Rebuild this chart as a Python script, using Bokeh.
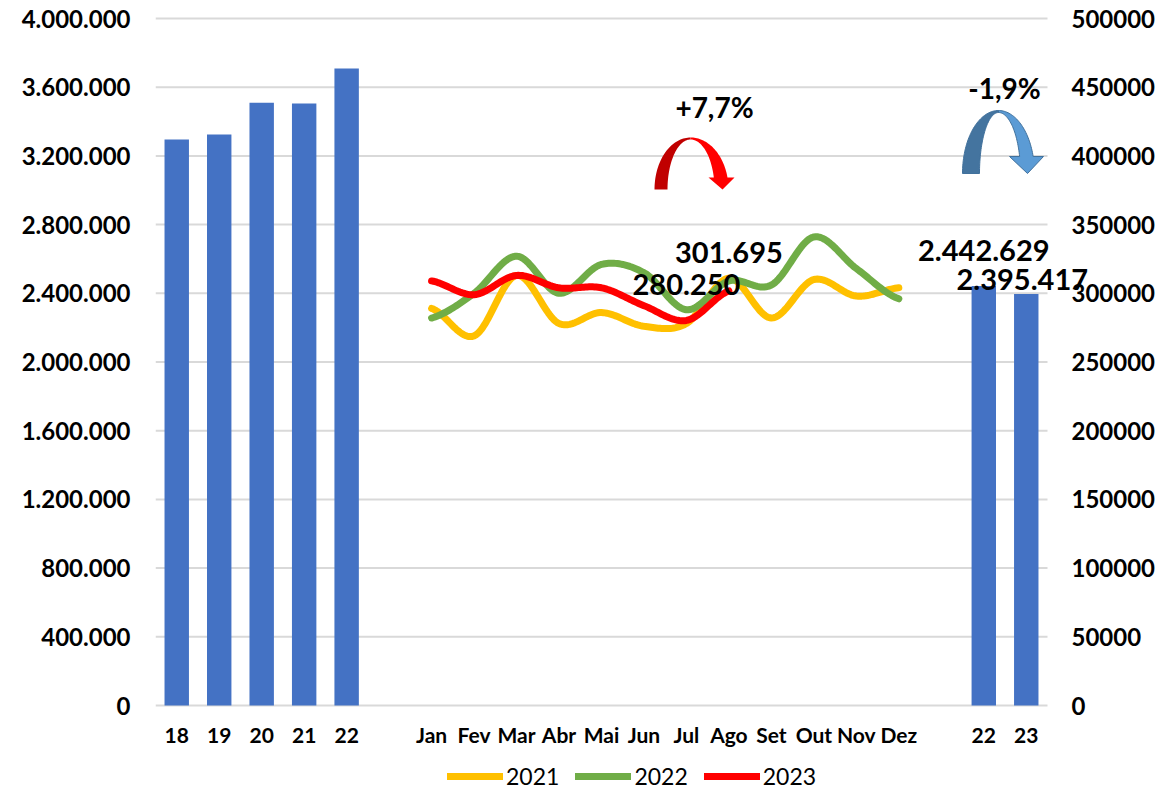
from bokeh.plotting import figure
from bokeh.models import (LinearAxis, Range1d, FixedTicker, Legend, LegendItem, Label)
from bokeh.embed import file_html
from bokeh.resources import INLINE
import numpy as np

categories = ["18","19","20","21","22","","Jan","Fev","Mar","Abr","Mai","Jun","Jul","Ago","Set","Out","Nov","Dez","","22","23"]
annual_values = [3295000, 3325000, 3510000, 3505000, 3709000]
ytd_values = [2442629, 2395417]
m2021 = [289000, 269000, 313000, 278000, 286000, 276000, 278000, 311000, 282000, 310000, 298000, 304000]
m2022 = [282000, 300000, 327000, 300000, 321000, 315000, 288000, 309000, 306000, 341000, 318000, 296000]
m2023 = [309000, 299000, 313000, 304000, 304000, 291000, 280250, 301695]
left_ticks = [0, 400000, 800000, 1200000, 1600000, 2000000, 2400000, 2800000, 3200000, 3600000, 4000000]
right_ticks = [0, 50000, 100000, 150000, 200000, 250000, 300000, 350000, 400000, 450000, 500000]

FONT = "Lato"
W, H = 1175, 790
FL, FR, FT, Y0 = 155, 1047, 18, 705     # plot edges and the zero line, in canvas pixels
PLOT_H = Y0 - FT
N = len(categories)
# the frame runs on above the top tick, below zero and right of the last category,
# so that the axis labels, the legend and the last data label are not cut off
above = FT / PLOT_H
below = (H - Y0) / PLOT_H
right = (W - FR) / (FR - FL) * N

p = figure(width=W, height=H, output_backend="svg", toolbar_location=None,
           x_range=Range1d(0, N + right), y_range=Range1d(-below * 4000000, (1 + above) * 4000000),
           min_border_left=FL, min_border_right=0, min_border_top=0, min_border_bottom=0,
           outline_line_color=None, background_fill_color="white", border_fill_color="white")
p.extra_y_ranges = {"right": Range1d(-below * 500000, (1 + above) * 500000)}

def dx(px): return (np.asarray(px, dtype=float) - FL) / (FR - FL) * N
def dy(py): return (Y0 - np.asarray(py, dtype=float)) / PLOT_H * 4000000

p.xgrid.visible = False
p.ygrid.visible = False
p.segment(x0=[0] * len(left_ticks), x1=[N] * len(left_ticks), y0=left_ticks, y1=left_ticks,
          line_color="#D9D9D9", line_width=2)

# axes
ax = p.yaxis[0]
ax.ticker = FixedTicker(ticks=left_ticks)
ax.major_label_overrides = {t: f"{t:,}".replace(",", ".") for t in left_ticks}
ra = LinearAxis(y_range_name="right", ticker=FixedTicker(ticks=right_ticks), fixed_location=N)
ra.major_label_overrides = {t: str(t) for t in right_ticks}
p.add_layout(ra, "right")
for a in (ax, ra):
    a.axis_line_color = None
    a.major_tick_line_color = None
    a.minor_tick_line_color = None
    a.major_label_text_font = FONT
    a.major_label_text_font_style = "bold"
    a.major_label_text_font_size = "24px"
    a.major_label_text_color = "#000000"
ax.major_label_standoff = 19
ra.major_label_standoff = 18
xa = p.xaxis[0]
xa.fixed_location = 0
xa.ticker = FixedTicker(ticks=[i + 0.5 for i, c in enumerate(categories) if c])
xa.major_label_overrides = {i + 0.5: c for i, c in enumerate(categories) if c}
xa.axis_line_color = None
xa.major_tick_line_color = None
xa.minor_tick_line_color = None
xa.major_label_standoff = 10
xa.major_label_text_font = FONT
xa.major_label_text_font_style = "bold"
xa.major_label_text_font_size = "21px"
xa.major_label_text_color = "#000000"

# bars
bar_x = [0.5, 1.5, 2.5, 3.5, 4.5, 19.5, 20.5]
bar_v = annual_values + ytd_values
p.vbar(x=bar_x, top=bar_v, bottom=0, width=0.575, fill_color="#4472C4", line_color=None)

# smooth lines (Catmull-Rom through the monthly values)
def smooth(ys, n=24):
    xs = np.arange(len(ys), dtype=float) + 6.5
    ys = np.array(ys, dtype=float)
    ox, oy = [], []
    for i in range(len(ys) - 1):
        y0 = ys[max(i-1, 0)]; y1 = ys[i]; y2 = ys[i+1]; y3 = ys[min(i+2, len(ys)-1)]
        for t in np.linspace(0, 1, n, endpoint=i == len(ys) - 2):
            ox.append(xs[i] + t)
            oy.append(0.5*((2*y1) + (y2-y0)*t + (2*y0-5*y1+4*y2-y3)*t*t + (3*y1-y0-3*y2+y3)*t**3))
    return ox, oy

renderers = {}
for name, vals, col in (("2021", m2021, "#FFC000"), ("2022", m2022, "#70AD47"), ("2023", m2023, "#FF0000")):
    sx, sy = smooth(vals)
    renderers[name] = p.line(sx, sy, y_range_name="right", line_color=col, line_width=7,
                             line_cap="round", line_join="round")

# curved arrows
def half(cx, by, rx, ry, a0, a1, n=40):
    th = np.radians(np.linspace(a0, a1, n))
    return cx + rx*np.cos(th), by - ry*np.sin(th)

def arrow(cx, by, head_y, lo_rx, li_rx, ro_rx, ri_rx, ry_o, ry_i, head_l, head_r, tip_x, tip_y, c_left, c_right, outline):
    ox, oy = half(cx, by, lo_rx, ry_o, 180, 90)
    ix, iy = half(cx, by, li_rx, ry_i, 90, 180)
    p.patch(dx(np.r_[ox, ix]), dy(np.r_[oy, iy]), fill_color=c_left, line_color=outline, line_width=1)
    a = np.degrees(np.arcsin((by-head_y)/ry_o))
    b = np.degrees(np.arcsin((by-head_y)/ry_i))
    ox, oy = half(cx, by, ro_rx, ry_o, 90, a)
    ix, iy = half(cx, by, ri_rx, ry_i, b, 90)
    xs = np.r_[ox, head_r, tip_x, head_l, ix]
    ys = np.r_[oy, head_y, tip_y, head_y, iy]
    p.patch(dx(xs), dy(ys), fill_color=c_right, line_color=outline, line_width=1)

arrow(690, 189, 177, 36, 23, 38, 24, 52, 50, 708, 734, 722, 189, "#C00000", "#FF0000", None)
arrow(998, 173, 156, 36, 19, 36, 22, 63, 61, 1009, 1043, 1027, 173, "#44749F", "#5B9BD5", "#41719C")

# data labels and the two percentages
def label(x, y, txt, off=0, size="29px", yr="default", xoff=0):
    p.add_layout(Label(x=x, y=y, text=txt, x_offset=xoff, y_offset=off, y_range_name=yr,
                       text_align="center", text_baseline="middle",
                       text_font=FONT, text_font_style="bold", text_font_size=size, text_color="#000000"))

label(13.5, m2023[7], "301.695", 38, yr="right")
label(12.5, m2023[6], "280.250", 36, yr="right")
label(19.5, ytd_values[0], "2.442.629", 35)
label(20.5, ytd_values[1], "2.395.417", 15, xoff=-4)
label(float(dx(714)), float(dy(106)), "+7,7%", size="28px")
label(float(dx(1004)), float(dy(87)), "-1,9%", size="28px")

# legend
legend = Legend(items=[LegendItem(label=k, renderers=[r]) for k, r in renderers.items()],
                orientation="horizontal", location=(292, 0),
                background_fill_alpha=0, border_line_color=None,
                label_text_font=FONT, label_text_font_size="23px", label_text_color="#000000",
                glyph_width=56, glyph_height=20, spacing=16, label_standoff=3,
                margin=0, padding=0)
p.add_layout(legend, "center")

open("out.html", "w").write(file_html(p, INLINE))
